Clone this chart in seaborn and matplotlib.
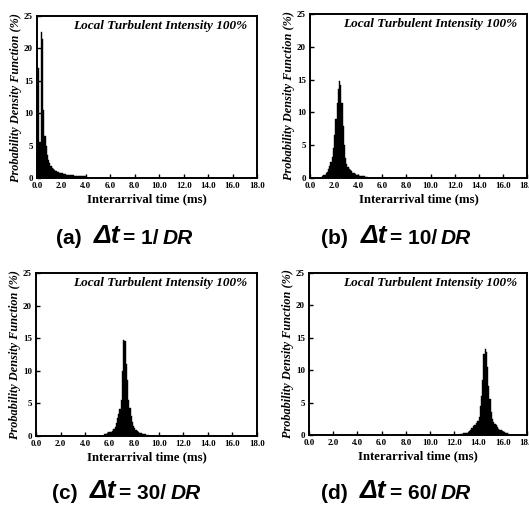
import numpy as np
import pandas as pd
import matplotlib
matplotlib.use("Agg")
import matplotlib.pyplot as plt
from matplotlib.text import Annotation
import seaborn as sns

sns.set_theme(style="white")
plt.rcParams['font.family'] = ['Liberation Serif', 'DejaVu Serif']
plt.rcParams['text.color'] = 'black'
plt.rcParams['axes.labelcolor'] = 'black'
plt.rcParams['xtick.color'] = 'black'
plt.rcParams['ytick.color'] = 'black'

BIN = 0.1
# Panel (a): delta t = 1/DR, bins start at 0.0 ms
a_start = 0.0
a_vals = [15, 17, 5.5, 22.5, 21.5, 10.5, 6.5, 5.0, 3.5, 2.8,
          2.3, 1.9, 1.6, 1.4, 1.2, 1.05, 0.95, 0.85, 0.8, 0.75,
          0.7, 0.65, 0.6, 0.55, 0.5, 0.5, 0.45, 0.45, 0.4, 0.4,
          0.38, 0.36, 0.35, 0.33, 0.32, 0.3, 0.28, 0.27, 0.26, 0.25]
# Panel (b): delta t = 10/DR, bins start at 1.0 ms
b_start = 1.0
b_vals = [0.3, 0.4, 0.5, 0.7, 0.9, 1.3, 1.8, 2.4, 3.2, 4.5,
          6.5, 9.0, 11.5, 13.5, 14.8, 14.2, 11.5, 8.0, 5.0, 3.0,
          2.2, 1.7, 1.4, 1.2, 1.0, 0.8, 0.7, 0.6, 0.5, 0.45,
          0.4, 0.35, 0.3, 0.3, 0.28, 0.25, 0.22, 0.2]
# Panel (c): delta t = 30/DR, bins start at 5.5 ms
c_start = 5.5
c_vals = [0.25, 0.3, 0.35, 0.45, 0.55, 0.6, 0.65, 0.8, 1.0, 1.4,
          2.0, 2.7, 3.3, 4.2, 5.5, 10.0, 14.8, 14.5, 11.0, 8.6,
          5.5, 4.3, 3.0, 2.2, 1.6, 1.2, 0.9, 0.7, 0.55, 0.45,
          0.4, 0.35, 0.3, 0.28, 0.25, 0.22, 0.2]
# Panel (d): delta t = 60/DR, bins start at 12.5 ms
d_start = 12.5
d_vals = [0.2, 0.2, 0.25, 0.3, 0.3, 0.35, 0.45, 0.6, 0.8, 1.1,
          1.4, 1.5, 1.6, 1.8, 2.2, 2.8, 4.5, 6.0, 8.5, 12.5,
          13.2, 12.8, 10.5, 7.5, 5.5, 3.5, 2.5, 2.0, 1.7, 1.5,
          1.2, 1.0, 0.8, 0.7, 0.55, 0.45, 0.4, 0.3, 0.25, 0.2]

panels = [
    ("(a)", "1/", a_start, a_vals),
    ("(b)", "10/", b_start, b_vals),
    ("(c)", "30/", c_start, c_vals),
    ("(d)", "60/", d_start, d_vals),
]
x_ticks = [0, 2, 4, 6, 8, 10, 12, 14, 16, 18]
x_ticklabels = ["0.0", "2.0", "4.0", "6.0", "8.0", "10.0", "12.0", "14.0", "16.0", "18.0"]
y_ticks = [0, 5, 10, 15, 20, 25]

title_text = "Local Turbulent Intensity 100%"
xlabel_text = "Interarrival time (ms)"
ylabel_text = "Probability Density Function (%)"

W, H = 529, 505
fig = plt.figure(figsize=(W / 100, H / 100), dpi=100)

rects = [
    (37, 16, 257, 178),
    (310, 14, 527, 178),
    (36, 273, 257, 436),
    (309, 273, 527, 435),
]
caption_pos = [(56, 244), (321, 244), (52, 499), (321, 499)]

for (lab, dr, start, vals), (l, t, r, b), (cx, cy) in zip(panels, rects, caption_pos):
    ax = fig.add_axes([l / W, 1 - b / H, (r - l) / W, (b - t) / H])
    centers = start + BIN * (np.arange(len(vals)) + 0.5)
    df = pd.DataFrame({"time": centers, "pdf": vals})
    sns.histplot(data=df, x="time", weights="pdf", bins=180, binrange=(0, 18),
                 stat="count", color="black", edgecolor="black", linewidth=0.3,
                 alpha=1.0, ax=ax)
    ax.set_xlim(0, 18)
    ax.set_ylim(0, 25)
    ax.set_xticks(x_ticks)
    ax.set_xticklabels(x_ticklabels, fontsize=6.5, fontweight="bold")
    ax.set_yticks(y_ticks)
    ax.set_yticklabels([str(v) for v in y_ticks], fontsize=6.5, fontweight="bold")
    ax.tick_params(direction="in", length=3, width=1, bottom=True, left=True, pad=3)
    ax.set_xlabel(xlabel_text, fontsize=9.2, fontweight="bold", labelpad=2)
    ax.set_ylabel(ylabel_text, fontsize=8.8, fontweight="bold", style="italic", labelpad=1)
    for s in ax.spines.values():
        s.set_visible(True)
        s.set_color("black")
        s.set_linewidth(1.4)
    ax.text(0.955, 0.975, title_text, transform=ax.transAxes, ha="right", va="top",
            fontsize=9.5, fontweight="bold", style="italic")
    ax.grid(False)

    t1 = fig.text(cx / W, 1 - cy / H, lab, fontsize=15, fontweight="bold",
                  family="Liberation Sans", va="baseline", ha="left", color="black")
    a2 = Annotation("\u0394t", xy=(1, 0), xycoords=t1, xytext=(9, 0),
                    textcoords="offset points", fontsize=19, family="Liberation Sans",
                    fontweight="bold", style="italic", va="bottom", ha="left",
                    color="black")
    fig.add_artist(a2)
    a3 = Annotation("= " + dr, xy=(1, 0), xycoords=a2, xytext=(2, 0),
                    textcoords="offset points", fontsize=15, family="Liberation Sans",
                    fontweight="bold", va="bottom", ha="left", color="black")
    fig.add_artist(a3)
    a4 = Annotation("DR", xy=(1, 0), xycoords=a3, xytext=(3, 0),
                    textcoords="offset points", fontsize=15, family="Liberation Sans",
                    fontweight="bold", style="italic", va="bottom", ha="left",
                    color="black")
    fig.add_artist(a4)

fig.savefig("out.png", dpi=100, facecolor="white")
